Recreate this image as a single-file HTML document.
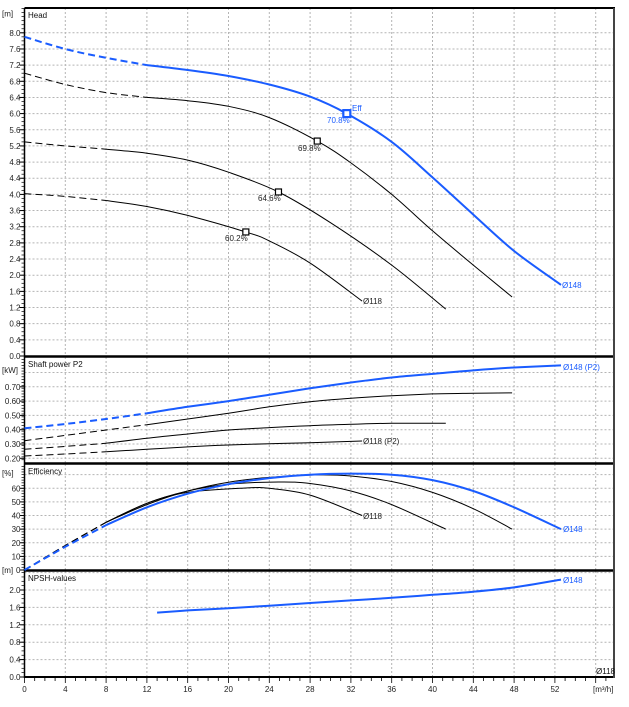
<!DOCTYPE html>
<html><head><meta charset="utf-8"><style>
html,body{margin:0;padding:0;background:#fff;}
svg{display:block;font-family:"Liberation Sans",Arial,sans-serif;}
</style></head><body>
<svg id="chart" width="629" height="707" viewBox="0 0 629 707" xmlns="http://www.w3.org/2000/svg"></svg>
<script>
// ---- data ----
const xTicks = [0,4,8,12,16,20,24,28,32,36,40,44,48,52];
const headTicks = [0.0,0.4,0.8,1.2,1.6,2.0,2.4,2.8,3.2,3.6,4.0,4.4,4.8,5.2,5.6,6.0,6.4,6.8,7.2,7.6,8.0];
const powerTicks = [0.20,0.30,0.40,0.50,0.60,0.70];
const effTicks = [0,10,20,30,40,50,60];
const npshTicks = [0.0,0.4,0.8,1.2,1.6,2.0];

const headQ148 = [0,4,8,12,16,20,24,28,31.6,36,40,44,48,52.6];
const headH148 = [7.9,7.6,7.38,7.2,7.08,6.93,6.72,6.42,6.0,5.3,4.42,3.5,2.6,1.76];
const headQ2 = [0,4,8,12,16,20,24,28.7,32,36,40,44,47.8];
const headH2 = [7.0,6.72,6.52,6.4,6.32,6.18,5.9,5.32,4.78,4.0,3.1,2.25,1.46];
const headQ3 = [0,4,8,12,16,20,24.9,30,36,41.3];
const headH3 = [5.3,5.2,5.12,5.02,4.85,4.55,4.06,3.3,2.25,1.16];
const headQ4 = [0,4,8,12,16,21.7,24,28,33.1];
const headH4 = [4.02,3.95,3.85,3.7,3.48,3.07,2.85,2.3,1.36];

const powQ148 = [0,4,8,12,16,20,24,28,32,36,40,44,48,52.6];
const powP148 = [0.41,0.44,0.475,0.515,0.56,0.60,0.645,0.69,0.73,0.765,0.79,0.815,0.835,0.85];
const powQ2 = [0,4,8,12,16,20,24,28,32,36,40,44,47.8];
const powP2 = [0.323,0.36,0.398,0.435,0.475,0.515,0.56,0.596,0.62,0.638,0.65,0.655,0.657];
const powQ3 = [0,4,8,12,16,20,24,28,32,36,41.3];
const powP3 = [0.263,0.283,0.305,0.34,0.37,0.398,0.415,0.428,0.438,0.445,0.445];
const powQ4 = [0,4,8,12,16,20,24,28,33.1];
const powP4 = [0.216,0.23,0.246,0.263,0.28,0.293,0.302,0.309,0.321];

const effQ148 = [0,4,8,12,16,20,24,28,32,36,40,44,48,52.6];
const effE148 = [0,17,33,46,56,63,67.5,70,70.8,70,66,58,46,30];
const effQ2 = [0,4,8,12,16,20,24,28.7,32,36,40,44,47.8];
const effE2 = [0,18,35,48,58,64.5,68,69.8,69,65,57,45,30];
const effQ3 = [0,4,8,12,16,20,24.9,28,32,36,41.3];
const effE3 = [0,18,35,49,58,63,64.6,63.5,58,48,30];
const effQ4 = [0,4,8,12,16,21.7,24,28,33.1];
const effE4 = [0,18,35,49,57,60.2,60,55,40];

const npshQ = [13,16,20,24,28,32,36,40,44,48,52.6];
const npshV = [1.48,1.53,1.58,1.64,1.70,1.76,1.82,1.89,1.96,2.06,2.24];

// ---- scales ----
const X0=24.5, XS=10.2, XR=614;
const sx = q => X0 + q*XS;
const yHead = v => 356 - v*40.4;
const yPow = v => 458.3 - (v-0.2)*143;
const yEff = v => 570 - v*1.362;
const yNpsh = v => 677 - v*43.5;

const svg = document.getElementById('chart');
const NS='http://www.w3.org/2000/svg';
function mk(tag, attrs, parent){
  const e=document.createElementNS(NS,tag);
  for(const k in attrs) e.setAttribute(k,attrs[k]);
  (parent||svg).appendChild(e); return e;
}
function txt(x,y,s,opts,parent){
  const t=mk('text',{x:x,y:y,'font-size':opts.size||8,fill:opts.fill||'#222','text-anchor':opts.anchor||'start'},parent);
  t.textContent=s; return t;
}
function pathFrom(pts){
  let d='M'+pts[0][0].toFixed(1)+','+pts[0][1].toFixed(1);
  for(let i=0;i<pts.length-1;i++){
    const p0=pts[Math.max(0,i-1)],p1=pts[i],p2=pts[i+1],p3=pts[Math.min(pts.length-1,i+2)];
    const c1=[p1[0]+(p2[0]-p0[0])/6,p1[1]+(p2[1]-p0[1])/6];
    const c2=[p2[0]-(p3[0]-p1[0])/6,p2[1]-(p3[1]-p1[1])/6];
    d+=' C'+c1[0].toFixed(1)+','+c1[1].toFixed(1)+' '+c2[0].toFixed(1)+','+c2[1].toFixed(1)+' '+p2[0].toFixed(1)+','+p2[1].toFixed(1);
  }
  return d;
}
function series(qs, vs, ys, dashUntil, color, width, name){
  const pts = qs.map((q,i)=>[sx(q), ys(vs[i])]);
  const k = qs.findIndex(q=>q>=dashUntil);
  if(dashUntil>0 && k>0){
    const p=mk('path',{d:pathFrom(pts.slice(0,k+1)),fill:'none',stroke:color,'stroke-width':width,'stroke-dasharray':'7,4'});
    
    
    const s=mk('path',{d:pathFrom(pts.slice(k)),fill:'none',stroke:color,'stroke-width':width});
    
    
  } else {
    const s=mk('path',{d:pathFrom(pts),fill:'none',stroke:color,'stroke-width':width});
    
    
  }
}
const BLUE='#1a5cff';

// ---- panels: grids ----
const panels=[
  {top:8,bot:356,ticks:headTicks,ys:yHead,fmt:v=>v.toFixed(1),unit:'[m]',unitY:16.6,title:'Head',minor:0.1,lo:0,hi:8.6},
  {top:357,bot:463,ticks:powerTicks,ys:yPow,fmt:v=>v.toFixed(2),unit:'[kW]',unitY:373,title:'Shaft power P2',minor:0.02,lo:0.19,hi:0.91,extra:[0.8]},
  {top:464,bot:570,ticks:effTicks,ys:yEff,fmt:v=>String(v),unit:'[%]',unitY:476,title:'Efficiency',minor:2,lo:0,hi:77,extra:[70]},
  {top:571,bot:677,ticks:npshTicks,ys:yNpsh,fmt:v=>v.toFixed(1),unit:'[m]',unitY:573,title:'NPSH-values',minor:0.1,lo:0,hi:2.4,extra:[2.4]}
];
panels.forEach((p,pi)=>{
  const g=mk('g',{});
  
  
  xTicks.concat([56]).forEach(q=>{ if(q>0) mk('line',{x1:sx(q),x2:sx(q),y1:p.top,y2:p.bot,stroke:'#b4b4b4','stroke-width':1,'stroke-dasharray':'2,2'},g); });
  p.ticks.concat(p.extra||[]).forEach(v=>{
    const y=p.ys(v); if(v===0&&pi===0) return;
    mk('line',{x1:X0,x2:XR,y1:y,y2:y,stroke:'#b4b4b4','stroke-width':1,'stroke-dasharray':'2,2'},g);
  });
  p.ticks.forEach(v=>{
    const y=p.ys(v);
    mk('line',{x1:X0-5,x2:X0,y1:y,y2:y,stroke:'#000','stroke-width':1},g);
    txt(X0-4,y+3,p.fmt(v),{anchor:'end',size:8},g);
  });
  for(let v=p.lo; v<=p.hi+1e-9; v+=p.minor){
    const y=p.ys(v); if(y<p.top||y>p.bot) continue;
    mk('line',{x1:X0-3,x2:X0,y1:y,y2:y,stroke:'#000','stroke-width':0.7},g);
  }
  txt(2,p.unitY,p.unit,{size:8},g);
  const t=txt(28,p.top+10,p.title,{size:8,fill:'#111'},g);
  
  
});
[8,356.5,463.5,570.5,677].forEach((y,i)=>{ mk('line',{x1:X0,x2:XR+1,y1:y,y2:y,stroke:'#000','stroke-width':i===0||i===4?2:2.5}); });
mk('line',{x1:X0,x2:X0,y1:8,y2:678,stroke:'#000','stroke-width':1.5});
mk('line',{x1:XR,x2:XR,y1:8,y2:678,stroke:'#444','stroke-width':2});

// x axis
for(let q=0;q<=57;q++){ const x=sx(q); mk('line',{x1:x,x2:x,y1:677,y2:q%4===0?683:681,stroke:'#000','stroke-width':0.8}); }
xTicks.forEach(q=>{ const t=txt(sx(q),692,String(q),{anchor:'middle',size:8});   });
txt(593,692,'[m³/h]',{size:8});

// ---- Head ----
series(headQ148,headH148,yHead,12,BLUE,2,'head-curve-148');
series(headQ2,headH2,yHead,12,'#000',1,'head-curve-2');
series(headQ3,headH3,yHead,8,'#000',1,'head-curve-3');
series(headQ4,headH4,yHead,8,'#000',1,'head-curve-118');
function marker(q,v,color,w,sz,name){
  const r=mk('rect',{x:sx(q)-sz/2,y:yHead(v)-sz/2,width:sz,height:sz,fill:'#fff',stroke:color,'stroke-width':w});
   
}
marker(headQ148[8],headH148[8],BLUE,2.2,7,'best-efficiency-point-148');
marker(headQ2[7],headH2[7],'#000',1.2,6,'best-efficiency-point-2');
marker(headQ3[6],headH3[6],'#000',1.2,6,'best-efficiency-point-3');
marker(headQ4[5],headH4[5],'#000',1.2,6,'best-efficiency-point-118');
txt(352,111,'Eff',{size:8,fill:BLUE});
txt(327,123,'70.8%',{size:8,fill:BLUE});
txt(298,151,'69.8%',{size:8});
txt(258,201,'64.6%',{size:8});
txt(225,241,'60.2%',{size:8});
txt(363,304,'Ø118',{size:8});
txt(562,288,'Ø148',{size:8,fill:BLUE});

// ---- Power ----
series(powQ148,powP148,yPow,12,BLUE,2,'power-curve-148');
series(powQ2,powP2,yPow,12,'#000',1,'power-curve-2');
series(powQ3,powP3,yPow,8,'#000',1,'power-curve-3');
series(powQ4,powP4,yPow,8,'#000',1,'power-curve-118');
txt(563,370,'Ø148 (P2)',{size:8,fill:BLUE});
txt(363,444,'Ø118 (P2)',{size:8});

// ---- Efficiency ----
series(effQ4,effE4,yEff,8,'#000',1,'eff-curve-118');
series(effQ3,effE3,yEff,8,'#000',1,'eff-curve-3');
series(effQ2,effE2,yEff,8,'#000',1,'eff-curve-2');
series(effQ148,effE148,yEff,8,BLUE,2,'eff-curve-148');
txt(363,519,'Ø118',{size:8});
txt(563,532,'Ø148',{size:8,fill:BLUE});

// ---- NPSH ----
series(npshQ,npshV,yNpsh,0,BLUE,2,'npsh-curve-148');
txt(563,583,'Ø148',{size:8,fill:BLUE});
txt(596,674,'Ø118',{size:8,fill:'#111'});
</script>
</body></html>
